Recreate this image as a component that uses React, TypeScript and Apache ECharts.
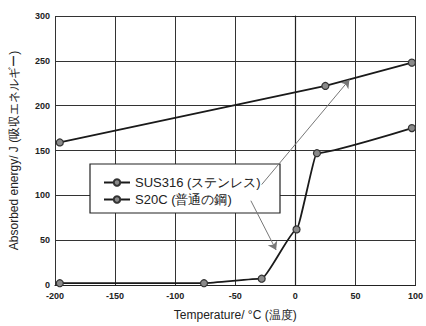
import React, { useEffect, useRef } from "react";
import * as echarts from "echarts";

const sus316Temps = [-196, 25, 97];
const sus316Values = [159, 222, 248];
const s20cTemps = [-196, -76, -28, 1, 18, 97];
const s20cValues = [2, 2, 7, 62, 147, 175];
const seriesNames = ["SUS316 (ステンレス)", "S20C (普通の鋼)"];
const arrowFrom = [[-28, 112], [-37, 94]];
const arrowTo = [[45, 229], [-16, 39]];

export default function App() {
  const ref = useRef<HTMLDivElement>(null);
  useEffect(() => {
    const chart = echarts.init(ref.current!, null, { renderer: "svg" });
    const tickFont = { fontFamily: "Liberation Sans", fontSize: 9, fontWeight: "bold", color: "#222" };
    const markerStyle = { color: "#8a8a8a", borderColor: "#333", borderWidth: 1.2 };
    chart.setOption({
      animation: false,
      backgroundColor: "#fff",
      grid: { left: 54, right: 10, top: 16, bottom: 40 },
      xAxis: {
        type: "value",
        min: -200,
        max: 100,
        interval: 50,
        name: "Temperature/ °C (温度)",
        nameLocation: "middle",
        nameGap: 24,
        nameTextStyle: { fontFamily: "Liberation Sans", fontSize: 12, color: "#222" },
        axisLine: { show: true, lineStyle: { color: "#222", width: 1.2 } },
        axisTick: { show: false },
        axisLabel: { ...tickFont, margin: 6 },
        splitLine: { show: true, lineStyle: { color: "#333", width: 1 } },
      },
      yAxis: {
        type: "value",
        min: 0,
        max: 300,
        interval: 50,
        name: "Absorbed energy/ J (吸収エネルギー)",
        nameLocation: "middle",
        nameGap: 35,
        nameTextStyle: { fontFamily: "Liberation Sans", fontSize: 12, color: "#222" },
        axisLine: { show: true, lineStyle: { color: "#222", width: 1.2 } },
        axisTick: { show: true, length: 3, inside: false, lineStyle: { color: "#222" } },
        axisLabel: { ...tickFont, margin: 5 },
        splitLine: { show: true, lineStyle: { color: "#333", width: 1 } },
      },
      graphic: [
        {
          type: "rect",
          z: 3,
          shape: { x: 90, y: 164, width: 190, height: 49 },
          style: { fill: "#fff", stroke: "#222", lineWidth: 1.2 },
        },
      ],
      legend: {
        orient: "vertical",
        left: 98,
        top: 171,
        itemGap: 4,
        itemWidth: 26,
        itemHeight: 8,
        z: 5,
        textStyle: { fontFamily: "Liberation Sans Narrow, Liberation Sans", fontSize: 13, color: "#222" },
        data: seriesNames,
      },
      series: [
        {
          name: seriesNames[0],
          type: "line",
          data: sus316Temps.map((t, i) => [t, sus316Values[i]]),
          symbol: "circle",
          symbolSize: 7,
          lineStyle: { color: "#1a1a1a", width: 1.8 },
          itemStyle: markerStyle,
          markLine: {
            silent: true,
            symbol: ["none", "arrow"],
            symbolSize: 8,
            label: { show: false },
            lineStyle: { color: "#777", width: 1, type: "solid" },
            data: arrowFrom.map((f, i) => [{ coord: f }, { coord: arrowTo[i] }]),
          },
        },
        {
          name: seriesNames[1],
          type: "line",
          data: s20cTemps.map((t, i) => [t, s20cValues[i]]),
          symbol: "circle",
          symbolSize: 7,
          smooth: 0.15,
          smoothMonotone: "x",
          lineStyle: { color: "#1a1a1a", width: 1.8 },
          itemStyle: markerStyle,
        },
      ],
    });
    return () => chart.dispose();
  }, []);
  return <div ref={ref} style={{ width: 426, height: 326, position: "absolute", left: 0, top: 0 }} />;
}
